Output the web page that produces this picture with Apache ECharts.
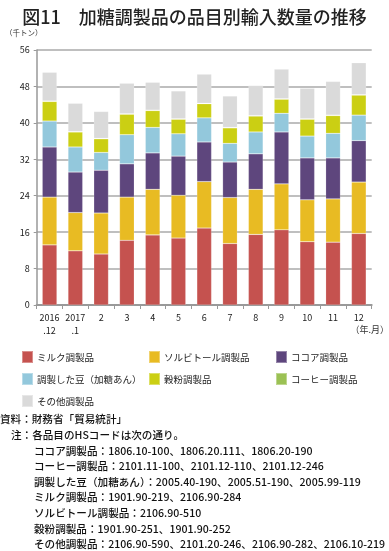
<!DOCTYPE html>
<html><head><meta charset="utf-8">
<script src="https://cdn.jsdelivr.net/npm/echarts@6/dist/echarts.min.js"></script>
<style>html,body{margin:0;padding:0;background:#fff}#c{width:389px;height:551px}</style>
</head><body><div id="c"></div>
<script>
var categories = ['2016\n.12','2017\n.1','2','3','4','5','6','7','8','9','10','11','12'];
var milk     = [13.2, 11.9, 11.2, 14.2, 15.4, 14.7, 16.9, 13.5, 15.5, 16.5, 13.9, 13.8, 15.7];
var sorbitol = [10.5,  8.4,  9.0,  9.5, 10.0,  9.4, 10.2, 10.1,  9.9, 10.1,  9.2,  9.5, 11.3];
var cocoa    = [11.0,  8.9,  9.4,  7.3,  8.0,  8.6,  8.7,  7.8,  7.8, 11.4,  9.2,  9.0,  9.1];
var bean     = [ 5.7,  5.5,  3.9,  6.4,  5.6,  4.9,  5.3,  4.1,  4.8,  4.1,  4.8,  5.4,  5.6];
var grain    = [ 4.3,  3.3,  3.0,  4.5,  3.7,  3.2,  3.1,  3.4,  3.5,  3.1,  3.7,  3.9,  4.4];
var coffee   = [ 0.1,  0.1,  0.1,  0.1,  0.1,  0.1,  0.1,  0.1,  0.1,  0.1,  0.1,  0.1,  0.1];
var other    = [ 6.3,  6.2,  5.9,  6.7,  6.1,  6.1,  6.4,  6.9,  6.6,  6.5,  6.7,  7.4,  7.0];
var yTicks   = [0, 8, 16, 24, 32, 40, 48, 56];
var seriesNames = ['ミルク調製品','ソルビトール調製品','ココア調製品','調製した豆（加糖あん）','穀粉調製品','コーヒー調製品','その他調製品'];
var seriesData  = [milk, sorbitol, cocoa, bean, grain, coffee, other];
var colors = ['#c5524f','#e8bb23','#5e467d','#93c8dc','#cbcf13','#9bc154','#dadada'];
var notes = [
  '資料：財務省「貿易統計」',
  '注：各品目のHSコードは次の通り。',
  'ココア調製品：1806.10-100、1806.20.111、1806.20-190',
  'コーヒー調製品：2101.11-100、2101.12-110、2101.12-246',
  '調製した豆（加糖あん）：2005.40-190、2005.51-190、2005.99-119',
  'ミルク調製品：1901.90-219、2106.90-284',
  'ソルビトール調製品：2106.90-510',
  '穀粉調製品：1901.90-251、1901.90-252',
  'その他調製品：2106.90-590、2101.20-246、2106.90-282、2106.10-219'
];

var FONT = '"Noto Sans CJK JP", "Noto Sans", sans-serif';
var chart = echarts.init(document.getElementById('c'), null, {renderer:'canvas'});

var series = seriesNames.map(function(n, i){
  return {
    name: n, type: 'bar', stack: 'all', data: seriesData[i], barWidth: '57%',
    itemStyle: {color: colors[i], borderColor: 'rgba(255,255,255,0.35)', borderWidth: 0.5},
    emphasis: {disabled: true}
  };
});

function legendCol(left, names){
  return {
    left: left, top: 350, padding: 0, orient: 'vertical', itemWidth: 11, itemHeight: 12, itemGap: 8,
    icon: 'rect', selectedMode: false, data: names,
    textStyle: {fontFamily: FONT, fontSize: 9.5, color: '#222', lineHeight: 12, height: 12, padding: [0,0,0,-1]}
  };
}

var graphics = [];
var noteX = [0, 11, 34, 34, 34, 34, 34, 34, 34];
notes.forEach(function(t, i){
  graphics.push({type:'text', left: noteX[i], top: 414 + i*15.6,
    style:{text: t, font: '500 10.6px ' + FONT, fill: '#111'}});
});
graphics.push({type:'text', left: 5, top: 29, style:{text:'（千トン）', font:'7.5px ' + FONT, fill:'#333'}});
graphics.push({type:'text', right: 0, top: 325, style:{text:'（年.月）', font:'9px ' + FONT, fill:'#333'}});

chart.setOption({
  animation: false,
  title: {text: '図11　加糖調製品の品目別輸入数量の推移', left: 'center', top: 3,
    textStyle: {fontFamily: FONT, fontSize: 18, fontWeight: 500, color: '#222'}},
  grid: {left: 36.7, right: 17.3, top: 50, bottom: 246},
  legend: [
    legendCol(21, [seriesNames[0], seriesNames[3], seriesNames[6]]),
    legendCol(148, [seriesNames[1], seriesNames[4]]),
    legendCol(275, [seriesNames[2], seriesNames[5]])
  ],
  xAxis: {
    type: 'category', data: categories,
    axisLine: {lineStyle: {color: '#999', width: 2}},
    axisTick: {show: true, length: 4, lineStyle: {color: '#999'}},
    axisLabel: {interval: 0, fontFamily: FONT, fontSize: 9, color: '#222', lineHeight: 13, margin: 6}
  },
  yAxis: {
    type: 'value', min: yTicks[0], max: yTicks[yTicks.length-1], interval: 8,
    axisLine: {show: true, lineStyle: {color: '#999', width: 1.5}},
    axisTick: {show: true, length: 3, lineStyle: {color: '#999'}},
    axisLabel: {fontFamily: FONT, fontSize: 9, color: '#222', margin: 7},
    splitLine: {lineStyle: {color: '#aaa', width: 1.5}}
  },
  graphic: graphics,
  series: series
});
</script></body></html>
